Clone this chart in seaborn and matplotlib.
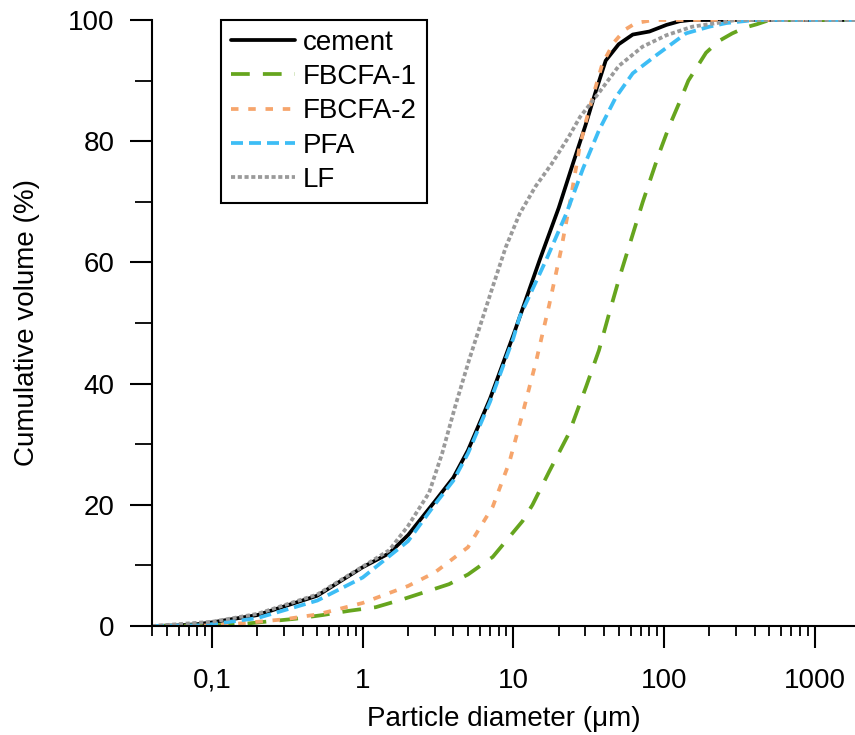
import matplotlib
matplotlib.use("Agg")
import matplotlib.pyplot as plt
import matplotlib.ticker as mticker
import seaborn as sns
import pandas as pd

# particle size distributions (diameter in um, cumulative volume in %)
cement_d = [0.04, 0.06, 0.08, 0.1, 0.2, 0.5, 1, 1.5, 2, 3, 4, 5, 7, 10, 15, 20, 25, 30, 35, 41,
            50, 62, 80, 104, 127, 150, 1850]
cement_v = [0, 0.1, 0.3, 0.6, 1.8, 5, 9.7, 12, 15, 20.5, 24.5, 29, 37.5, 48, 60.5, 69, 76.5, 82.5, 88, 93.3,
            96, 97.6, 98.1, 99.2, 99.8, 100, 100]

fbcfa1_d = [0.04, 0.1, 0.17, 0.36, 0.54, 0.81, 1.22, 1.84, 2.9, 3.74, 5, 7.3, 11.5, 13.4, 17.3, 23.4,
            30.4, 37, 43.7, 50.7, 62.3, 72.3, 92.8, 108, 126, 145, 166, 190, 230, 284, 350, 413,
            500, 1850]
fbcfa1_v = [0, 0.1, 0.4, 1.2, 1.8, 2.5, 3.1, 4.4, 6, 6.9, 8.5, 11.4, 17.3, 20, 25.5, 31.8,
            39.5, 45.5, 52, 57.6, 64.8, 70, 78, 82.4, 86.3, 90, 92.3, 94.6, 96.5, 97.8, 98.8, 99.3,
            100, 100]

fbcfa2_d = [0.04, 0.1, 0.15, 0.3, 0.5, 1, 2, 3, 5, 7.3, 9.4, 11.5, 14.1, 17.3, 20.7, 24.2, 27.5,
            30.5, 34, 39, 46.5, 55, 65, 85, 1850]
fbcfa2_v = [0, 0.1, 0.4, 1.1, 1.9, 3.8, 6.6, 8.8, 13, 19.7, 27, 35, 43.5, 53, 62, 71, 79,
            83.5, 87.7, 92.8, 96.3, 98.4, 99.5, 100, 100]

pfa_d = [0.04, 0.08, 0.1, 0.2, 0.5, 1, 2, 3, 4, 5, 7, 10, 11, 16.5, 22.4, 29, 37, 48, 62,
         89, 140, 200, 260, 400, 1850]
pfa_v = [0, 0.1, 0.3, 1.3, 4.2, 8, 14, 20, 24, 28.5, 37, 47.5, 51, 60.4, 68, 75.5, 81.8, 87.3, 91.2,
         94.2, 97.8, 98.9, 99.5, 100, 100]

lf_d = [0.04, 0.1, 0.2, 0.5, 1, 1.5, 2, 2.76, 3.37, 4.14, 5.1, 6.1, 7.3, 8.9, 11, 14, 18, 23.4,
        27.7, 37, 50, 72, 104, 154, 225, 300, 1850]
lf_v = [0, 0.7, 2, 5.2, 9.8, 12.5, 16.5, 22, 28.5, 36.5, 44, 50, 56, 62.5, 68, 72.5, 76.3, 80.8,
        84, 88, 92.4, 95.6, 97.5, 98.9, 99.5, 100, 100]

names = ["cement", "FBCFA-1", "FBCFA-2", "PFA", "LF"]
colors = ["#000000", "#66a51e", "#f6a56c", "#3dbdf5", "#9a9a9a"]
dash_styles = ["-", (0, (5, 3.5)), (0, (2, 2.6)), (0, (3.2, 1.6)), (0, (1.1, 0.7))]

frames = []
for name, d, v in zip(names, [cement_d, fbcfa1_d, fbcfa2_d, pfa_d, lf_d],
                      [cement_v, fbcfa1_v, fbcfa2_v, pfa_v, lf_v]):
    frames.append(pd.DataFrame({"d": d, "v": v, "sample": name}))
df = pd.concat(frames, ignore_index=True)

sns.set_style("ticks")
plt.rcParams["font.family"] = ["Liberation Sans", "DejaVu Sans"]
for key in ["text.color", "axes.labelcolor", "xtick.color", "ytick.color"]:
    plt.rcParams[key] = "black"
fs = 20

fig = plt.figure(figsize=(8.55, 7.35), dpi=100)
ax = fig.add_axes([152 / 855, 109 / 735, 703 / 855, 606 / 735])

for name, col, ls in zip(names, colors, dash_styles):
    sub = df[df["sample"] == name]
    sns.lineplot(data=sub, x="d", y="v", ax=ax, color=col, lw=2.7, label=name,
                 estimator=None, sort=False)
    ax.get_lines()[-1].set_linestyle(ls)

ax.set_xscale("log")
ax.set_xlim(0.04, 1850)
ax.set_ylim(0, 100)

ax.xaxis.set_major_locator(mticker.FixedLocator([0.1, 1, 10, 100, 1000]))
ax.xaxis.set_major_formatter(mticker.FixedFormatter(["0,1", "1", "10", "100", "1000"]))
ax.xaxis.set_minor_locator(mticker.LogLocator(base=10, subs=range(2, 10), numticks=20))
ax.xaxis.set_minor_formatter(mticker.NullFormatter())
ax.yaxis.set_major_locator(mticker.MultipleLocator(20))
ax.yaxis.set_minor_locator(mticker.MultipleLocator(10))

ax.tick_params(axis="x", which="major", direction="out", length=16, width=1.5, pad=14, labelsize=fs)
ax.tick_params(axis="x", which="minor", direction="out", length=7.5, width=1.3)
ax.tick_params(axis="y", which="major", direction="out", length=16, width=1.5, pad=11, labelsize=fs)
ax.tick_params(axis="y", which="minor", direction="out", length=12, width=1.3)

sns.despine(ax=ax)
for s in ["left", "bottom"]:
    ax.spines[s].set_linewidth(1.5)
    ax.spines[s].set_color("black")

ax.set_xlabel("Particle diameter (\u03bcm)", fontsize=fs, labelpad=9)
ax.set_ylabel("Cumulative volume (%)", fontsize=fs, labelpad=20)

leg = ax.legend(loc="upper left", bbox_to_anchor=(0.098, 1.0), fontsize=fs, frameon=True,
                fancybox=False, handlelength=2.3, handletextpad=0.3, borderpad=0.35,
                labelspacing=0.3, borderaxespad=0)
leg.get_frame().set_edgecolor("black")
leg.get_frame().set_linewidth(1.5)
leg.get_frame().set_alpha(1)

fig.savefig("out.png", dpi=100)
